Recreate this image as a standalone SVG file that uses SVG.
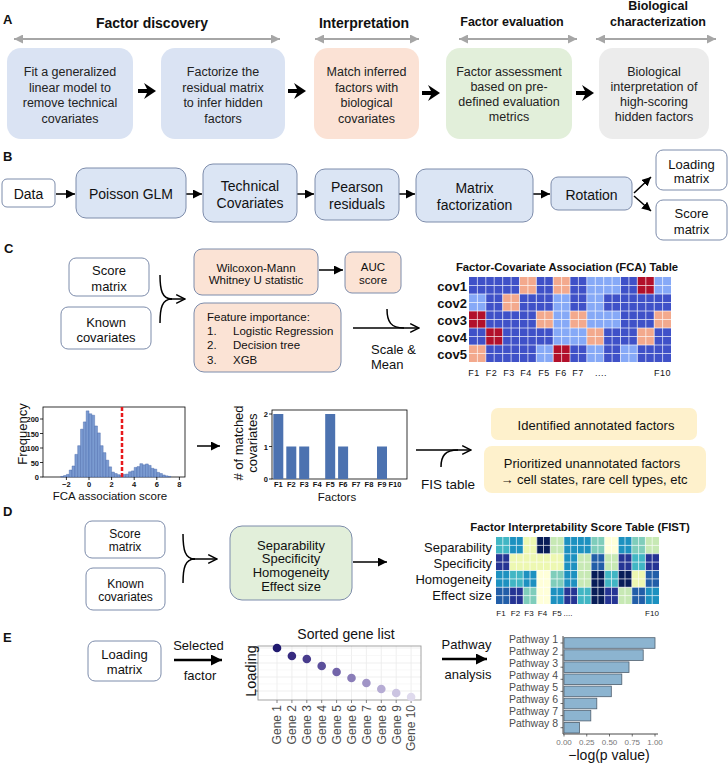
<svg xmlns="http://www.w3.org/2000/svg" width="728" height="763" viewBox="0 0 728 763">
<defs>
<style>
text{font-family:"Liberation Sans",Arial,sans-serif;fill:#111}
.lbl{font-weight:bold;font-size:13px}
.hdr{font-weight:bold;font-size:14px;text-anchor:middle}
.hdr2{font-weight:bold;font-size:12.5px;text-anchor:middle}
.ta{font-size:12.5px;text-anchor:middle;fill:#222}
.tb{font-size:14px;text-anchor:middle}
.tc{font-size:13px;text-anchor:middle}
.ts{font-size:11.5px;text-anchor:middle}
.tf{font-size:11.5px}
.wbox{fill:#fff;stroke:#7d8cab;stroke-width:1}
.bbox{fill:#dbe5f4;stroke:#7d8cab;stroke-width:1}
.pbox{fill:#fbe3d5;stroke:#7d8cab;stroke-width:1}
.gbox{fill:#e2efda;stroke:#7d8cab;stroke-width:1}
.ybox{fill:#fef1cc}
.ln{stroke:#000;stroke-width:1.5;fill:none}
.ln2{stroke:#000;stroke-width:2.5;fill:none}
.gar{stroke:#a6a6a6;stroke-width:2;fill:none}
.tick{font-size:7.5px;font-weight:bold}
.D{fill:#3f51c8}.L{fill:#86a9f7}.P{fill:#f3a98d}.R{fill:#b2102b}
.a{fill:#081d58}.b{fill:#253494}.c{fill:#225ea8}.d{fill:#1d91c0}.e{fill:#41b6c4}.f{fill:#7fcdbb}.g{fill:#c7e9b4}.h{fill:#edf8b1}.i{fill:#ffffd9}
.grid{stroke:#fff;stroke-width:0.8;opacity:0.85}
.gg{stroke:#ebebeb;stroke-width:0.8}
.gene{font-size:12px;fill:#4d4d4d;text-anchor:end}
.pw{font-size:10.5px;fill:#4d4d4d;text-anchor:end}
.pbar{fill:#8cb4d0;stroke:#4f5f6e;stroke-width:0.8}
.xt{font-size:8px;fill:#777;text-anchor:middle}
</style>
<marker id="gtri" viewBox="0 0 10 10" refX="10" refY="5" markerWidth="11" markerHeight="9" markerUnits="userSpaceOnUse" orient="auto-start-reverse"><path d="M0,0 L10,5 L0,10 z" fill="#a6a6a6"/></marker>
<marker id="tri" viewBox="0 0 10 10" refX="10" refY="5" markerWidth="9" markerHeight="9" markerUnits="userSpaceOnUse" orient="auto"><path d="M0,0 L10,5 L0,10 z" fill="#000"/></marker>
<marker id="tri2" viewBox="0 0 10 10" refX="10" refY="5" markerWidth="11" markerHeight="11" markerUnits="userSpaceOnUse" orient="auto"><path d="M0,0 L10,5 L0,10 z" fill="#000"/></marker>
<marker id="chev" viewBox="0 0 10 10" refX="9" refY="5" markerWidth="11" markerHeight="11" markerUnits="userSpaceOnUse" orient="auto"><path d="M1,1 L9,5 L1,9" fill="none" stroke="#000" stroke-width="1.3"/></marker>
</defs>
<rect width="728" height="763" fill="#fff"/>

<!-- Panel A -->
<g id="panelA-labels">
<text class="lbl" x="3" y="23.5">A</text>
<text class="hdr" x="152" y="28">Factor discovery</text>
<text class="hdr" x="364" y="28">Interpretation</text>
<text class="hdr2" x="512" y="26">Factor evaluation</text>
<text class="hdr2" x="658" y="9.5">Biological</text>
<text class="hdr2" x="658" y="26">characterization</text>
</g>
<g id="a-box1"><rect x="7" y="48" width="126" height="91" rx="14" fill="#dae3f3"/>
<text class="ta" x="70" y="76">Fit a generalized</text><text class="ta" x="70" y="91.5">linear model to</text><text class="ta" x="70" y="107">remove technical</text><text class="ta" x="70" y="122.5">covariates</text></g>
<g id="a-box2"><rect x="161" y="48" width="124" height="91" rx="14" fill="#dae3f3"/>
<text class="ta" x="223" y="76">Factorize the</text><text class="ta" x="223" y="91.5">residual matrix</text><text class="ta" x="223" y="107">to infer hidden</text><text class="ta" x="223" y="122.5">factors</text></g>
<g id="a-box3"><rect x="314" y="48" width="105" height="91" rx="14" fill="#fbe2d5"/>
<text class="ta" x="366.5" y="76">Match inferred</text><text class="ta" x="366.5" y="91.5">factors with</text><text class="ta" x="366.5" y="107">biological</text><text class="ta" x="366.5" y="122.5">covariates</text></g>
<g id="a-box4"><rect x="446" y="48" width="126" height="91" rx="14" fill="#e2efda"/>
<text class="ta" x="509" y="76">Factor assessment</text><text class="ta" x="509" y="91">based on pre-</text><text class="ta" x="509" y="106">defined evaluation</text><text class="ta" x="509" y="121">metrics</text></g>
<g id="a-box5"><rect x="599" y="48" width="110" height="91" rx="14" fill="#ececec"/>
<text class="ta" x="654" y="75.5">Biological</text><text class="ta" x="654" y="90.5">interpretation of</text><text class="ta" x="654" y="105.5">high-scoring</text><text class="ta" x="654" y="120.5">hidden factors</text></g>

<g id="connectors">
<!-- A gray ranges -->
<line class="gar" x1="14" y1="39" x2="280" y2="39" marker-start="url(#gtri)" marker-end="url(#gtri)"/>
<line class="gar" x1="315" y1="39" x2="419" y2="39" marker-start="url(#gtri)" marker-end="url(#gtri)"/>
<line class="gar" x1="459" y1="39" x2="577" y2="39" marker-start="url(#gtri)" marker-end="url(#gtri)"/>
<line class="gar" x1="596" y1="39" x2="716" y2="39" marker-start="url(#gtri)" marker-end="url(#gtri)"/>
<!-- A bold arrows -->
<path d="M138 89 H147 L144 83 L156 91 L144 99 L147 93 H138 Z" fill="#000"/>
<path d="M288 89 H297 L294 83 L306 91 L294 99 L297 93 H288 Z" fill="#000"/>
<path d="M422 91 H431 L428 85 L440 93 L428 101 L431 95 H422 Z" fill="#000"/>
<path d="M576 91 H585 L582 85 L594 93 L582 101 L585 95 H576 Z" fill="#000"/>
<!-- B -->
<line class="ln" x1="56" y1="194" x2="75" y2="194" marker-end="url(#tri)"/>
<line class="ln" x1="186" y1="194" x2="202" y2="194" marker-end="url(#tri)"/>
<line class="ln" x1="297" y1="194" x2="314" y2="194" marker-end="url(#tri)"/>
<line class="ln" x1="399" y1="194" x2="415" y2="194" marker-end="url(#tri)"/>
<line class="ln" x1="533" y1="194" x2="550" y2="194" marker-end="url(#tri)"/>
<line class="ln" x1="634" y1="193" x2="651" y2="177" marker-end="url(#tri)"/>
<line class="ln" x1="634" y1="196" x2="651" y2="211" marker-end="url(#tri)"/>
<!-- C -->
<path class="ln" d="M160 275 C160 290 162 299 172 299"/>
<path class="ln" d="M160 323 C160 308 162 299 172 299"/>
<path class="ln" d="M168 299 H185" marker-end="url(#chev)"/>
<line class="ln" x1="319" y1="270" x2="343" y2="270" marker-end="url(#tri)"/>
<path class="ln" d="M353 328 H419" marker-end="url(#chev)"/>
<path class="ln" d="M387 309 C387 322 391 328 404 328"/>
<line class="ln" x1="197" y1="446" x2="220" y2="446" marker-end="url(#tri)"/>
<path class="ln" d="M416 450 H471" marker-end="url(#chev)"/>
<path class="ln" d="M441 467 C441 456 445 450 458 450"/>
<!-- D -->
<path class="ln" d="M183 534 C183 550 185 559 195 559"/>
<path class="ln" d="M183 583 C183 568 185 559 195 559"/>
<path class="ln" d="M190 559 H217" marker-end="url(#chev)"/>
<line class="ln" x1="353" y1="562" x2="387" y2="562" marker-end="url(#tri)"/>
<!-- E -->
<line class="ln2" x1="174" y1="660" x2="222" y2="660" marker-end="url(#tri2)"/>
<line class="ln2" x1="442" y1="659" x2="487" y2="659" marker-end="url(#tri2)"/>
</g>

<!-- Panel B -->
<text class="lbl" x="3" y="161">B</text>
<g id="b-data"><rect class="wbox" x="2" y="179" width="53" height="28" rx="5"/><text class="tb" x="28.5" y="199">Data</text></g>
<g id="b-glm"><rect class="bbox" x="76" y="168" width="110" height="50" rx="10"/><text class="tb" x="131" y="199">Poisson GLM</text></g>
<g id="b-tech"><rect class="bbox" x="203" y="164" width="94" height="58" rx="10"/><text class="tb" x="250" y="191">Technical</text><text class="tb" x="250" y="208">Covariates</text></g>
<g id="b-pearson"><rect class="bbox" x="315" y="169" width="84" height="51" rx="10"/><text class="tb" x="357" y="192">Pearson</text><text class="tb" x="357" y="209">residuals</text></g>
<g id="b-mf"><rect class="bbox" x="416" y="169" width="117" height="53" rx="10"/><text class="tb" x="474.5" y="193">Matrix</text><text class="tb" x="474.5" y="210">factorization</text></g>
<g id="b-rot"><rect class="bbox" x="551" y="177" width="81" height="33" rx="7"/><text class="tb" x="591.5" y="200">Rotation</text></g>
<g id="b-loading"><rect class="wbox" x="656" y="150" width="71" height="40" rx="7"/><text class="tc" x="691.5" y="168.5">Loading</text><text class="tc" x="691.5" y="183">matrix</text></g>
<g id="b-score"><rect class="wbox" x="656" y="200" width="71" height="40" rx="7"/><text class="tc" x="691.5" y="218">Score</text><text class="tc" x="691.5" y="234">matrix</text></g>

<!-- Panel C -->
<text class="lbl" x="4" y="253">C</text>
<g id="c-score"><rect class="wbox" x="69" y="258" width="80" height="38" rx="7"/><text class="tc" x="109" y="275">Score</text><text class="tc" x="109" y="291">matrix</text></g>
<g id="c-known"><rect class="wbox" x="61" y="307" width="90" height="42" rx="7"/><text class="tc" x="106" y="327">Known</text><text class="tc" x="106" y="342">covariates</text></g>
<g id="c-wilcoxon"><rect class="pbox" x="194" y="249" width="124" height="46" rx="8"/><text class="ts" x="256" y="271.5">Wilcoxon-Mann</text><text class="ts" x="256" y="284">Whitney U statistic</text></g>
<g id="c-auc"><rect class="pbox" x="345" y="252" width="56" height="41" rx="7"/><text class="ts" x="373" y="271">AUC</text><text class="ts" x="373" y="283.5">score</text></g>
<g id="c-feature"><rect class="pbox" x="194" y="303" width="147" height="69" rx="10"/>
<text class="tf" x="207" y="321">Feature importance:</text>
<text class="tf" x="207" y="335">1.</text><text class="tf" x="233" y="335">Logistic Regression</text>
<text class="tf" x="207" y="348.5">2.</text><text class="tf" x="233" y="348.5">Decision tree</text>
<text class="tf" x="207" y="364">3.</text><text class="tf" x="233" y="364">XGB</text></g>
<g id="c-scalemean"><text x="371" y="354" font-size="13">Scale &amp;</text><text x="371" y="369" font-size="13">Mean</text></g>

<g id="c-fca">
<text x="567" y="271" font-size="11.3" font-weight="bold" text-anchor="middle">Factor-Covariate Association (FCA) Table</text>
<g font-size="13" font-weight="bold" text-anchor="end">
<text x="467" y="290.5">cov1</text><text x="467" y="307.5">cov2</text><text x="467" y="324.5">cov3</text><text x="467" y="341.5">cov4</text><text x="467" y="358.5">cov5</text></g>
<g>
<rect class="D" x="469" y="277" width="17" height="17"/><rect class="D" x="485.83" y="277" width="17" height="17"/><rect class="D" x="502.67" y="277" width="17" height="17"/><rect class="P" x="519.5" y="277" width="17" height="17"/><rect class="D" x="536.33" y="277" width="17" height="17"/><rect class="P" x="553.17" y="277" width="17" height="17"/><rect class="D" x="570" y="277" width="17" height="17"/><rect class="L" x="586.83" y="277" width="17" height="17"/><rect class="L" x="603.67" y="277" width="17" height="17"/><rect class="D" x="620.5" y="277" width="17" height="17"/><rect class="R" x="637.33" y="277" width="17" height="17"/><rect class="L" x="654.17" y="277" width="16.83" height="17"/>
<rect class="L" x="469" y="294" width="17" height="17"/><rect class="D" x="485.83" y="294" width="17" height="17"/><rect class="P" x="502.67" y="294" width="17" height="17"/><rect class="D" x="519.5" y="294" width="17" height="17"/><rect class="D" x="536.33" y="294" width="17" height="17"/><rect class="L" x="553.17" y="294" width="17" height="17"/><rect class="D" x="570" y="294" width="17" height="17"/><rect class="L" x="586.83" y="294" width="17" height="17"/><rect class="D" x="603.67" y="294" width="17" height="17"/><rect class="D" x="620.5" y="294" width="17" height="17"/><rect class="D" x="637.33" y="294" width="17" height="17"/><rect class="D" x="654.17" y="294" width="16.83" height="17"/>
<rect class="R" x="469" y="311" width="17" height="17"/><rect class="D" x="485.83" y="311" width="17" height="17"/><rect class="D" x="502.67" y="311" width="17" height="17"/><rect class="D" x="519.5" y="311" width="17" height="17"/><rect class="P" x="536.33" y="311" width="17" height="17"/><rect class="L" x="553.17" y="311" width="17" height="17"/><rect class="P" x="570" y="311" width="17" height="17"/><rect class="L" x="586.83" y="311" width="17" height="17"/><rect class="L" x="603.67" y="311" width="17" height="17"/><rect class="D" x="620.5" y="311" width="17" height="17"/><rect class="D" x="637.33" y="311" width="17" height="17"/><rect class="P" x="654.17" y="311" width="16.83" height="17"/>
<rect class="D" x="469" y="328" width="17" height="17"/><rect class="R" x="485.83" y="328" width="17" height="17"/><rect class="D" x="502.67" y="328" width="17" height="17"/><rect class="D" x="519.5" y="328" width="17" height="17"/><rect class="D" x="536.33" y="328" width="17" height="17"/><rect class="L" x="553.17" y="328" width="17" height="17"/><rect class="L" x="570" y="328" width="17" height="17"/><rect class="P" x="586.83" y="328" width="17" height="17"/><rect class="D" x="603.67" y="328" width="17" height="17"/><rect class="D" x="620.5" y="328" width="17" height="17"/><rect class="P" x="637.33" y="328" width="17" height="17"/><rect class="D" x="654.17" y="328" width="16.83" height="17"/>
<rect class="P" x="469" y="345" width="17" height="17"/><rect class="D" x="485.83" y="345" width="17" height="17"/><rect class="D" x="502.67" y="345" width="17" height="17"/><rect class="D" x="519.5" y="345" width="17" height="17"/><rect class="L" x="536.33" y="345" width="17" height="17"/><rect class="R" x="553.17" y="345" width="17" height="17"/><rect class="D" x="570" y="345" width="17" height="17"/><rect class="L" x="586.83" y="345" width="17" height="17"/><rect class="D" x="603.67" y="345" width="17" height="17"/><rect class="L" x="620.5" y="345" width="17" height="17"/><rect class="D" x="637.33" y="345" width="17" height="17"/><rect class="D" x="654.17" y="345" width="16.83" height="17"/>
</g>
<path class="grid" d="M477.4 277V362M485.8 277V362M494.2 277V362M502.7 277V362M511.1 277V362M519.5 277V362M527.9 277V362M536.3 277V362M544.8 277V362M553.2 277V362M561.6 277V362M570 277V362M578.4 277V362M586.8 277V362M595.3 277V362M603.7 277V362M612.1 277V362M620.5 277V362M628.9 277V362M637.3 277V362M645.8 277V362M654.2 277V362M662.6 277V362M469 285.5H671M469 294H671M469 302.5H671M469 311H671M469 319.5H671M469 328H671M469 336.5H671M469 345H671M469 353.5H671"/>
<g font-size="9" fill="#333" text-anchor="middle" letter-spacing="0.5">
<text x="474" y="376">F1</text><text x="491.5" y="376">F2</text><text x="509" y="376">F3</text><text x="526" y="376">F4</text><text x="544" y="376">F5</text><text x="561" y="376">F6</text><text x="578" y="376">F7</text><text x="601" y="376">....</text><text x="662.5" y="376">F10</text></g>
</g>

<g id="c-histogram">
<rect x="43" y="407" width="142" height="70" fill="none" stroke="#000" stroke-width="0.8"/>
<g transform="translate(89,477) scale(11.3,-0.29)" fill="#7b9bd1" stroke="#3e5fa6" stroke-width="0.4">
<rect vector-effect="non-scaling-stroke" x="-2.5" y="0" width="0.25" height="2"/>
<rect vector-effect="non-scaling-stroke" x="-2.25" y="0" width="0.25" height="5"/>
<rect vector-effect="non-scaling-stroke" x="-2" y="0" width="0.25" height="9"/>
<rect vector-effect="non-scaling-stroke" x="-1.75" y="0" width="0.25" height="24"/>
<rect vector-effect="non-scaling-stroke" x="-1.5" y="0" width="0.25" height="38"/>
<rect vector-effect="non-scaling-stroke" x="-1.25" y="0" width="0.25" height="78"/>
<rect vector-effect="non-scaling-stroke" x="-1" y="0" width="0.25" height="108"/>
<rect vector-effect="non-scaling-stroke" x="-0.75" y="0" width="0.25" height="165"/>
<rect vector-effect="non-scaling-stroke" x="-0.5" y="0" width="0.25" height="190"/>
<rect vector-effect="non-scaling-stroke" x="-0.25" y="0" width="0.25" height="228"/>
<rect vector-effect="non-scaling-stroke" x="0" y="0" width="0.25" height="218"/>
<rect vector-effect="non-scaling-stroke" x="0.25" y="0" width="0.25" height="213"/>
<rect vector-effect="non-scaling-stroke" x="0.5" y="0" width="0.25" height="176"/>
<rect vector-effect="non-scaling-stroke" x="0.75" y="0" width="0.25" height="152"/>
<rect vector-effect="non-scaling-stroke" x="1" y="0" width="0.25" height="108"/>
<rect vector-effect="non-scaling-stroke" x="1.25" y="0" width="0.25" height="84"/>
<rect vector-effect="non-scaling-stroke" x="1.5" y="0" width="0.25" height="58"/>
<rect vector-effect="non-scaling-stroke" x="1.75" y="0" width="0.25" height="35"/>
<rect vector-effect="non-scaling-stroke" x="2" y="0" width="0.25" height="17"/>
<rect vector-effect="non-scaling-stroke" x="2.25" y="0" width="0.25" height="12"/>
<rect vector-effect="non-scaling-stroke" x="2.5" y="0" width="0.25" height="8"/>
<rect vector-effect="non-scaling-stroke" x="2.75" y="0" width="0.25" height="6"/>
<rect vector-effect="non-scaling-stroke" x="3" y="0" width="0.25" height="9"/>
<rect vector-effect="non-scaling-stroke" x="3.25" y="0" width="0.25" height="10"/>
<rect vector-effect="non-scaling-stroke" x="3.5" y="0" width="0.25" height="18"/>
<rect vector-effect="non-scaling-stroke" x="3.75" y="0" width="0.25" height="21"/>
<rect vector-effect="non-scaling-stroke" x="4" y="0" width="0.25" height="33"/>
<rect vector-effect="non-scaling-stroke" x="4.25" y="0" width="0.25" height="36"/>
<rect vector-effect="non-scaling-stroke" x="4.5" y="0" width="0.25" height="46"/>
<rect vector-effect="non-scaling-stroke" x="4.75" y="0" width="0.25" height="42"/>
<rect vector-effect="non-scaling-stroke" x="5" y="0" width="0.25" height="45"/>
<rect vector-effect="non-scaling-stroke" x="5.25" y="0" width="0.25" height="40"/>
<rect vector-effect="non-scaling-stroke" x="5.5" y="0" width="0.25" height="30"/>
<rect vector-effect="non-scaling-stroke" x="5.75" y="0" width="0.25" height="27"/>
<rect vector-effect="non-scaling-stroke" x="6" y="0" width="0.25" height="16"/>
<rect vector-effect="non-scaling-stroke" x="6.25" y="0" width="0.25" height="12"/>
<rect vector-effect="non-scaling-stroke" x="6.5" y="0" width="0.25" height="7"/>
<rect vector-effect="non-scaling-stroke" x="6.75" y="0" width="0.25" height="4"/>
<rect vector-effect="non-scaling-stroke" x="7" y="0" width="0.25" height="2"/>
</g>
<line x1="122" y1="407" x2="122" y2="477" stroke="#e8191c" stroke-width="2.5" stroke-dasharray="4 2"/>
<path d="M40 419H43M40 433.5H43M40 448H43M40 462.5H43M40 477H43M66.4 477V480M89 477V480M111.6 477V480M134.2 477V480M156.8 477V480M179.4 477V480" stroke="#000" stroke-width="0.8"/>
<g class="tick" text-anchor="end"><text x="39" y="422">200</text><text x="39" y="436.5">150</text><text x="39" y="451">100</text><text x="39" y="465.5">50</text><text x="39" y="480">0</text></g>
<g class="tick" text-anchor="middle"><text x="66.4" y="487">−2</text><text x="89" y="487">0</text><text x="111.6" y="487">2</text><text x="134.2" y="487">4</text><text x="156.8" y="487">6</text><text x="179.4" y="487">8</text></g>
<text transform="translate(26.5,434) rotate(-90)" font-size="13" text-anchor="middle">Frequency</text>
<text x="110" y="500" font-size="11.5" text-anchor="middle">FCA association score</text>
</g>

<g id="c-barchart">
<rect x="272" y="410" width="135" height="69" fill="none" stroke="#000" stroke-width="0.8"/>
<g fill="#4c72b0">
<rect x="273.3" y="414" width="10" height="65"/><rect x="286.3" y="446.5" width="10" height="32.5"/><rect x="299.2" y="446.5" width="10" height="32.5"/><rect x="325.2" y="414" width="10" height="65"/><rect x="338.1" y="446.5" width="10" height="32.5"/><rect x="377" y="446.5" width="10" height="32.5"/></g>
<path d="M269 414H272M269 446.5H272M269 479H272" stroke="#000" stroke-width="0.8"/>
<g class="tick" text-anchor="end"><text x="268" y="417">2</text><text x="268" y="449.5">1</text><text x="268" y="482">0</text></g>
<g class="tick" text-anchor="middle" font-size="7"><text x="278.3" y="487">F1</text><text x="291.3" y="487">F2</text><text x="304.2" y="487">F3</text><text x="317.2" y="487">F4</text><text x="330.2" y="487">F5</text><text x="343.1" y="487">F6</text><text x="356.1" y="487">F7</text><text x="369" y="487">F8</text><text x="382" y="487">F9</text><text x="395" y="487">F10</text></g>
<text transform="translate(242.5,443) rotate(-90)" font-size="13" text-anchor="middle">#&#160;of matched</text>
<text transform="translate(256.5,443) rotate(-90)" font-size="13" text-anchor="middle">covariates</text>
<text x="337" y="501" font-size="11.5" text-anchor="middle">Factors</text>
</g>
<text id="c-fis" x="448" y="489" font-size="13.5" text-anchor="middle">FIS table</text>
<g id="c-identified"><rect class="ybox" x="491" y="408" width="206" height="32" rx="7"/><text class="tc" x="596" y="429.5">Identified annotated factors</text></g>
<g id="c-prioritized"><rect class="ybox" x="484" y="446" width="222" height="47" rx="8"/><text class="tc" x="592" y="467.5">Prioritized unannotated factors</text><text class="tc" x="594" y="483.5">→ cell states, rare cell types, etc</text></g>

<!-- Panel D -->
<text class="lbl" x="3" y="516">D</text>
<g id="d-score"><rect class="wbox" x="85" y="521" width="80" height="37" rx="7"/><text x="125" y="538" font-size="12" text-anchor="middle">Score</text><text x="125" y="551" font-size="12" text-anchor="middle">matrix</text></g>
<g id="d-known"><rect class="wbox" x="86" y="568" width="79" height="42" rx="7"/><text x="125.5" y="588" font-size="12" text-anchor="middle">Known</text><text x="125.5" y="601" font-size="12" text-anchor="middle">covariates</text></g>
<g id="d-metrics"><rect class="gbox" x="230" y="526" width="122" height="74" rx="12"/>
<text class="tc" x="291" y="549.5">Separability</text><text class="tc" x="291" y="563">Specificity</text><text class="tc" x="291" y="577">Homogeneity</text><text class="tc" x="291" y="591">Effect size</text></g>
<g id="d-fist">
<text x="580" y="531" font-size="11.4" font-weight="bold" text-anchor="middle">Factor Interpretability Score Table (FIST)</text>
<g font-size="13" text-anchor="end"><text x="492" y="551.5">Separability</text><text x="492" y="568">Specificity</text><text x="492" y="583.5">Homogeneity</text><text x="492" y="599.5">Effect size</text></g>
<g>
<rect class="e" x="496" y="537" width="13.8" height="17"/><rect class="d" x="509.58" y="537" width="13.8" height="17"/><rect class="h" x="523.17" y="537" width="13.8" height="17"/><rect class="a" x="536.75" y="537" width="13.8" height="17"/><rect class="g" x="550.33" y="537" width="13.8" height="17"/><rect class="d" x="563.92" y="537" width="13.8" height="17"/><rect class="d" x="577.5" y="537" width="13.8" height="17"/><rect class="f" x="591.08" y="537" width="13.8" height="17"/><rect class="i" x="604.67" y="537" width="13.8" height="17"/><rect class="d" x="618.25" y="537" width="13.8" height="17"/><rect class="f" x="631.83" y="537" width="13.8" height="17"/><rect class="g" x="645.42" y="537" width="13.58" height="17"/>
<rect class="b" x="496" y="553.75" width="13.8" height="17"/><rect class="h" x="509.58" y="553.75" width="13.8" height="17"/><rect class="h" x="523.17" y="553.75" width="13.8" height="17"/><rect class="h" x="536.75" y="553.75" width="13.8" height="17"/><rect class="h" x="550.33" y="553.75" width="13.8" height="17"/><rect class="d" x="563.92" y="553.75" width="13.8" height="17"/><rect class="g" x="577.5" y="553.75" width="13.8" height="17"/><rect class="c" x="591.08" y="553.75" width="13.8" height="17"/><rect class="g" x="604.67" y="553.75" width="13.8" height="17"/><rect class="b" x="618.25" y="553.75" width="13.8" height="17"/><rect class="e" x="631.83" y="553.75" width="13.8" height="17"/><rect class="b" x="645.42" y="553.75" width="13.58" height="17"/>
<rect class="d" x="496" y="570.5" width="13.8" height="17"/><rect class="e" x="509.58" y="570.5" width="13.8" height="17"/><rect class="d" x="523.17" y="570.5" width="13.8" height="17"/><rect class="i" x="536.75" y="570.5" width="13.8" height="17"/><rect class="f" x="550.33" y="570.5" width="13.8" height="17"/><rect class="d" x="563.92" y="570.5" width="13.8" height="17"/><rect class="g" x="577.5" y="570.5" width="13.8" height="17"/><rect class="a" x="591.08" y="570.5" width="13.8" height="17"/><rect class="e" x="604.67" y="570.5" width="13.8" height="17"/><rect class="a" x="618.25" y="570.5" width="13.8" height="17"/><rect class="h" x="631.83" y="570.5" width="13.8" height="17"/><rect class="c" x="645.42" y="570.5" width="13.58" height="17"/>
<rect class="c" x="496" y="587.25" width="13.8" height="16.75"/><rect class="b" x="509.58" y="587.25" width="13.8" height="16.75"/><rect class="f" x="523.17" y="587.25" width="13.8" height="16.75"/><rect class="i" x="536.75" y="587.25" width="13.8" height="16.75"/><rect class="d" x="550.33" y="587.25" width="13.8" height="16.75"/><rect class="b" x="563.92" y="587.25" width="13.8" height="16.75"/><rect class="e" x="577.5" y="587.25" width="13.8" height="16.75"/><rect class="a" x="591.08" y="587.25" width="13.8" height="16.75"/><rect class="b" x="604.67" y="587.25" width="13.8" height="16.75"/><rect class="g" x="618.25" y="587.25" width="13.8" height="16.75"/><rect class="c" x="631.83" y="587.25" width="13.8" height="16.75"/><rect class="d" x="645.42" y="587.25" width="13.58" height="16.75"/>
</g>
<path class="grid" d="M502.8 537V604M509.6 537V604M516.4 537V604M523.2 537V604M530 537V604M536.8 537V604M543.5 537V604M550.3 537V604M557.1 537V604M563.9 537V604M570.7 537V604M577.5 537V604M584.3 537V604M591.1 537V604M597.9 537V604M604.7 537V604M611.5 537V604M618.3 537V604M625 537V604M631.8 537V604M638.6 537V604M645.4 537V604M652.2 537V604M496 545.4H659M496 553.75H659M496 562.1H659M496 570.5H659M496 578.9H659M496 587.25H659M496 595.6H659"/>
<g font-size="8" fill="#333" text-anchor="middle"><text x="501" y="616">F1</text><text x="515.5" y="616">F2</text><text x="529" y="616">F3</text><text x="542.5" y="616">F4</text><text x="557" y="616">F5</text><text x="568" y="616">....</text><text x="652" y="616">F10</text></g>
</g>

<!-- Panel E -->
<text class="lbl" x="3" y="642">E</text>
<g id="e-loading"><rect class="wbox" x="88" y="641" width="73" height="40" rx="7"/><text class="tc" x="124.5" y="658.5">Loading</text><text class="tc" x="124.5" y="673.5">matrix</text></g>
<g id="e-selected"><text class="tc" x="198.5" y="650">Selected</text><text class="tc" x="200" y="679.5">factor</text></g>
<g id="e-genes">
<text x="346" y="639" font-size="14" text-anchor="middle">Sorted gene list</text>
<rect x="258" y="646" width="163" height="54" fill="#fff"/>
<path class="gg" d="M258 648H421M258 663H421M258 677H421M258 691H421M277 646V700M291.9 646V700M306.8 646V700M321.7 646V700M336.6 646V700M351.5 646V700M366.4 646V700M381.3 646V700M396.2 646V700M411.1 646V700"/>
<path d="M258 655.5H421M258 670H421M258 684H421" stroke="#f4f4f4" stroke-width="0.6"/>
<rect x="258" y="646" width="163" height="54" fill="none" stroke="#9a9a9a" stroke-width="0.9"/>
<path d="M255 648H258M255 663H258M255 677H258M255 691H258M277 700V703M291.9 700V703M306.8 700V703M321.7 700V703M336.6 700V703M351.5 700V703M366.4 700V703M381.3 700V703M396.2 700V703M411.1 700V703" stroke="#666" stroke-width="0.8"/>
<circle cx="277" cy="648" r="4.3" fill="#20196f"/>
<circle cx="291.9" cy="656" r="4.3" fill="#372b80"/>
<circle cx="306.8" cy="659" r="4.3" fill="#483c8d"/>
<circle cx="321.7" cy="666" r="4.3" fill="#5b4f9b"/>
<circle cx="336.6" cy="672" r="4.3" fill="#7264a9"/>
<circle cx="351.5" cy="678" r="4.3" fill="#8a7db8"/>
<circle cx="366.4" cy="683" r="4.3" fill="#a094c6"/>
<circle cx="381.3" cy="689" r="4.3" fill="#b6acd4"/>
<circle cx="396.2" cy="693" r="4.3" fill="#cbc4e1"/>
<circle cx="411.1" cy="697" r="4.3" fill="#dfdaed"/>
<text transform="translate(256,671) rotate(-90)" font-size="14.5" text-anchor="middle">Loading</text>
<text class="gene" transform="translate(281.3,705) rotate(-90)">Gene 1</text>
<text class="gene" transform="translate(296.2,705) rotate(-90)">Gene 2</text>
<text class="gene" transform="translate(311.1,705) rotate(-90)">Gene 3</text>
<text class="gene" transform="translate(326,705) rotate(-90)">Gene 4</text>
<text class="gene" transform="translate(340.9,705) rotate(-90)">Gene 5</text>
<text class="gene" transform="translate(355.8,705) rotate(-90)">Gene 6</text>
<text class="gene" transform="translate(370.7,705) rotate(-90)">Gene 7</text>
<text class="gene" transform="translate(385.6,705) rotate(-90)">Gene 8</text>
<text class="gene" transform="translate(400.5,705) rotate(-90)">Gene 9</text>
<text class="gene" transform="translate(415.4,705) rotate(-90)">Gene 10</text>
</g>
<g id="e-pathway-label"><text class="tc" x="466.5" y="648.5">Pathway</text><text class="tc" x="468" y="678.5">analysis</text></g>
<g id="e-pathways">
<rect class="pbar" x="564" y="637.7" width="91" height="10.6"/>
<rect class="pbar" x="564" y="649.8" width="79.2" height="10.6"/>
<rect class="pbar" x="564" y="661.9" width="65" height="10.6"/>
<rect class="pbar" x="564" y="674" width="57.8" height="10.6"/>
<rect class="pbar" x="564" y="686.1" width="47.3" height="10.6"/>
<rect class="pbar" x="564" y="698.2" width="32.8" height="10.6"/>
<rect class="pbar" x="564" y="710.3" width="26.8" height="10.6"/>
<rect class="pbar" x="564" y="722.4" width="15.5" height="10.6"/>
<path d="M563 636V734H658" fill="none" stroke="#333" stroke-width="0.9"/>
<path d="M564 734V736.5M586.75 734V736.5M609.5 734V736.5M632.25 734V736.5M655 734V736.5M560.5 643H563M560.5 655.1H563M560.5 667.2H563M560.5 679.3H563M560.5 691.4H563M560.5 703.5H563M560.5 715.6H563M560.5 727.7H563" stroke="#333" stroke-width="0.7"/>
<text class="pw" x="558" y="642.5">Pathway 1</text>
<text class="pw" x="558" y="654.6">Pathway 2</text>
<text class="pw" x="558" y="666.7">Pathway 3</text>
<text class="pw" x="558" y="678.8">Pathway 4</text>
<text class="pw" x="558" y="690.9">Pathway 5</text>
<text class="pw" x="558" y="703">Pathway 6</text>
<text class="pw" x="558" y="715.1">Pathway 7</text>
<text class="pw" x="558" y="727.2">Pathway 8</text>
<text class="xt" x="564" y="745">0.00</text><text class="xt" x="586.75" y="745">0.25</text><text class="xt" x="609.5" y="745">0.50</text><text class="xt" x="632.25" y="745">0.75</text><text class="xt" x="655" y="745">1.00</text>
<text x="609" y="759.5" font-size="14" text-anchor="middle" fill="#222">−log(p value)</text>
</g>
</svg>
